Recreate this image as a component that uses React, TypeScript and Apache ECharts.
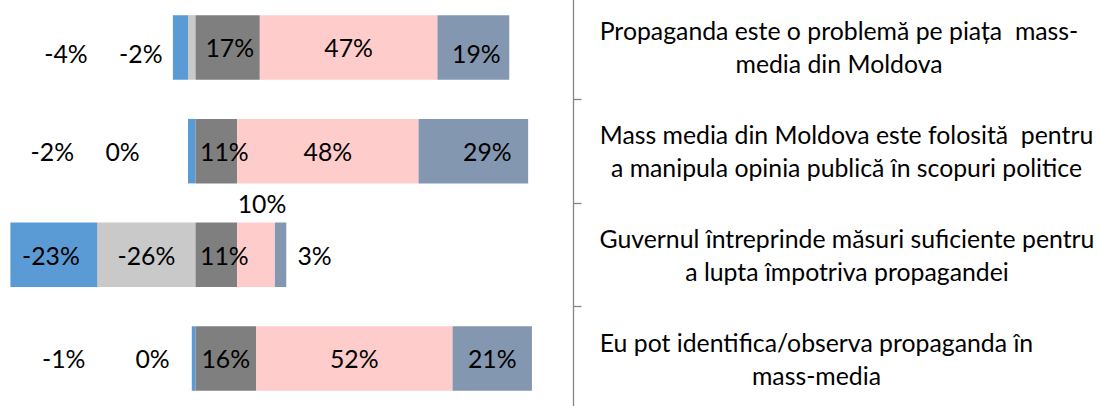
import React, { useEffect, useRef } from "react";
import * as echarts from "echarts";

// ---- Data ----
const categories: string[] = [
  "Propaganda este o problemă pe piața  mass-\nmedia din Moldova",
  "Mass media din Moldova este folosită  pentru\na manipula opinia publică în scopuri politice",
  "Guvernul întreprinde măsuri suficiente pentru\na lupta împotriva propagandei",
  "Eu pot identifica/observa propaganda în\nmass-media",
];

const seriesNames: string[] = [
  "Mai degrabă dezacord",
  "Total dezacord",
  "Nu știu",
  "Mai degrabă de acord",
  "Total de acord",
];

const dezacord: number[] = [-2, 0, -26, 0];
const totalDezacord: number[] = [-4, -2, -23, -1];
const neutru: number[] = [17, 11, 11, 16];
const acord: number[] = [47, 48, 10, 52];
const totalAcord: number[] = [19, 29, 3, 21];

// ---- Styling / layout (not data) ----
const colors: string[] = ["#C9C9C9", "#5B9BD5", "#7F7F7F", "#FFCCCC", "#8497B0"];

// label offsets [dx, dy] per series, per category
const labelOffsets: number[][][] = [
  [[-51, 6], [-73, 0], [0, 1], [-43, 0]],
  [[-114.5, 6], [-139.5, 0], [-3, 1], [-130, 0]],
  [[2, 0], [8, 0], [8, 1], [0, 0]],
  [[0, 0], [0, 0], [6, -51.5], [0, 0]],
  [[3, 6], [14, 0], [34, 1], [0, 0]],
];

const FONT = "Lato";

function measure(text: string, size: number): number {
  const c = document.createElement("canvas");
  const ctx = c.getContext("2d")!;
  ctx.font = `${size}px ${FONT}`;
  return ctx.measureText(text).width;
}

export default function App() {
  const ref = useRef<HTMLDivElement>(null);

  useEffect(() => {
    if (!ref.current) return;
    const chart = echarts.init(ref.current, undefined, { renderer: "svg" });

    // font size chosen so that the longest label line spans ~493px
    const ref100 = measure("Mass media din Moldova este folosită  pentru", 100);
    const fontSize = Math.round((100 * 493) / ref100 * 10) / 10;

    const rich: Record<string, any> = {};
    categories.forEach((cat, i) => {
      const w = Math.max(...cat.split("\n").map((l) => measure(l, fontSize)));
      rich["c" + i] = {
        width: Math.ceil(w) + 1,
        align: "center",
        fontSize,
        fontFamily: FONT,
        lineHeight: 33,
        color: "#000",
      };
    });

    const valueLists = [dezacord, totalDezacord, neutru, acord, totalAcord];

    const series = valueLists.map((vals, s) => ({
      name: seriesNames[s],
      type: "bar",
      stack: "total",
      barWidth: 64.5,
      itemStyle: { color: colors[s] },
      label: {
        show: true,
        position: "inside",
        color: "#000",
        fontFamily: FONT,
        fontSize,
        textBorderWidth: 0,
        formatter: (p: any) => `${p.value}%`,
      },
      emphasis: { disabled: true },
      data: vals.map((v, i) => ({
        value: v,
        label: { offset: labelOffsets[s][i] },
      })),
    }));

    chart.setOption({
      animation: false,
      grid: {
        left: 6.6,
        right: 1099 - 573.5,
        top: -4.4,
        bottom: -4.4,
        containLabel: false,
        outerBoundsMode: "none",
      },
      xAxis: {
        type: "value",
        min: -50,
        max: 100,
        show: false,
        splitLine: { show: false },
      },
      yAxis: {
        type: "category",
        data: categories,
        inverse: true,
        position: "right",
        axisLine: { show: true, onZero: false, lineStyle: { color: "#868686", width: 1.3 } },
        axisTick: { show: true, length: 8, lineStyle: { color: "#868686", width: 1.3 } },
        splitLine: { show: false },
        axisLabel: {
          interval: 0,
          margin: 25.5,
          align: "left",
          rich,
          formatter: (value: string, index: number) =>
            value
              .split("\n")
              .map((l) => `{c${index}|${l}}`)
              .join("\n"),
        },
      },
      series,
    });

    return () => chart.dispose();
  }, []);

  return (
    <div
      ref={ref}
      style={{ position: "fixed", left: 0, top: 0, width: 1099, height: 406, background: "#fff" }}
    />
  );
}
